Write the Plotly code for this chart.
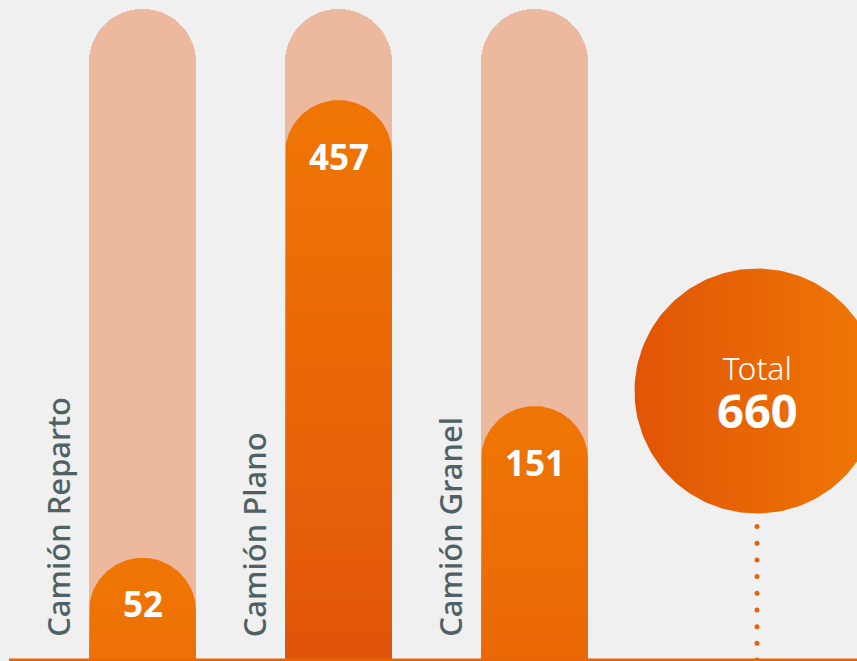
import numpy as np
import plotly.graph_objects as go

# ---- data ----
categories = ["Camión Reparto", "Camión Plano", "Camión Granel"]
values = [52, 457, 151]
fill_level = [15.7, 86.0, 39.0]      # bar fill level (% of the track)
track_level = [100, 100, 100]
total_label = "Total"
total_value = 660

# ---- styling / geometry ----
W, H = 857, 661
PX_X = 196.0            # pixels per x unit
PX_Y = 6.51             # pixels per y unit
X0_PX = 142.5           # pixel position of first category
BASE_PX = 660           # pixel (from top) of y = 0
bar_w = 107 / PX_X
rx, ry = (107 / 2) / PX_X, (107 / 2) / PX_Y

BG = "#eff0ef"
TRACK = "#ecb89e"
LIGHT = "#ef7604"
DARK = "#e0530a"
LABEL = "#4f6165"

xs = list(range(len(categories)))

fig = go.Figure()

# background tracks (rounded top bars)
fig.add_trace(go.Bar(
    x=xs, y=track_level, width=bar_w,
    marker=dict(color=TRACK, cornerradius="50%", line=dict(width=0)),
    hoverinfo="skip", showlegend=False,
))

# foreground fills with gradient (pill path built from data level)
span = max(fill_level)
for xi, lvl in zip(xs, fill_level):
    t = np.linspace(np.pi, 0, 60)
    px = np.concatenate([[xi - bar_w / 2], xi + rx * np.cos(t), [xi + bar_w / 2]])
    py = np.concatenate([[0], (lvl - ry) + ry * np.sin(t), [0]])
    fig.add_trace(go.Scatter(
        x=px, y=py, mode="lines", fill="toself", line=dict(width=0),
        fillgradient=dict(type="vertical", start=lvl - span, stop=lvl,
                          colorscale=[[0, DARK], [0.35, "#e86208"], [1, LIGHT]]),
        hoverinfo="skip", showlegend=False,
    ))

annotations = []
for xi, name, v, lvl in zip(xs, categories, values, fill_level):
    annotations.append(dict(
        x=xi - 0.432, y=(BASE_PX - 639) / PX_Y, xref="x", yref="y",
        text=name, textangle=-90, showarrow=False,
        xanchor="center", yanchor="bottom",
        font=dict(family="Noto Sans", size=31, color=LABEL, weight=500),
    ))
    annotations.append(dict(
        x=xi, y=lvl - min(8.6, lvl * 0.45), xref="x", yref="y",
        text=f"<b>{v}</b>", showarrow=False, xanchor="center", yanchor="middle",
        font=dict(family="Noto Sans", size=35, color="white"),
    ))

# total circle
cx = (757 - X0_PX) / PX_X
cy = (BASE_PX - 391) / PX_Y
R = 122.5
t = np.linspace(0, 2 * np.pi, 200)
fig.add_trace(go.Scatter(
    x=cx + R / PX_X * np.cos(t), y=cy + R / PX_Y * np.sin(t),
    mode="lines", fill="toself", line=dict(width=0),
    fillgradient=dict(type="horizontal", colorscale=[[0, "#e15405"], [1, "#f07905"]]),
    hoverinfo="skip", showlegend=False,
))
annotations.append(dict(
    x=cx, y=(BASE_PX - 394) / PX_Y,
    text=(f"<span style='font-size:32px;font-weight:300'>{total_label}</span><br>"
          f"<span style='font-size:47px'><b>{total_value}</b></span>"),
    showarrow=False, xanchor="center", yanchor="middle", align="center",
    font=dict(family="Noto Sans", size=37, color="white"),
))

# dotted connector
top_dot = cy - R / PX_Y - 13 / PX_Y
dots_y = np.linspace(top_dot, 0, 9)
fig.add_trace(go.Scatter(
    x=[cx] * len(dots_y), y=dots_y, mode="markers",
    marker=dict(size=5, color="#e8620a"), cliponaxis=False,
    hoverinfo="skip", showlegend=False,
))

xr = [-X0_PX / PX_X, (W - X0_PX) / PX_X]
yr = [(BASE_PX - H) / PX_Y, BASE_PX / PX_Y]

# baseline
fig.add_shape(type="line", xref="x", yref="y",
              x0=(9 - X0_PX) / PX_X, x1=xr[1], y0=0, y1=0,
              line=dict(color="#e8650a", width=3))

fig.update_layout(
    width=W, height=H,
    margin=dict(l=0, r=0, t=0, b=0, pad=0),
    paper_bgcolor=BG, plot_bgcolor=BG,
    xaxis=dict(range=xr, visible=False, fixedrange=True),
    yaxis=dict(range=yr, visible=False, fixedrange=True),
    annotations=annotations,
    showlegend=False,
    bargap=0,
)

fig.write_html("out.html", post_script="document.body.style.margin='0';",
               config={"displayModeBar": False})
